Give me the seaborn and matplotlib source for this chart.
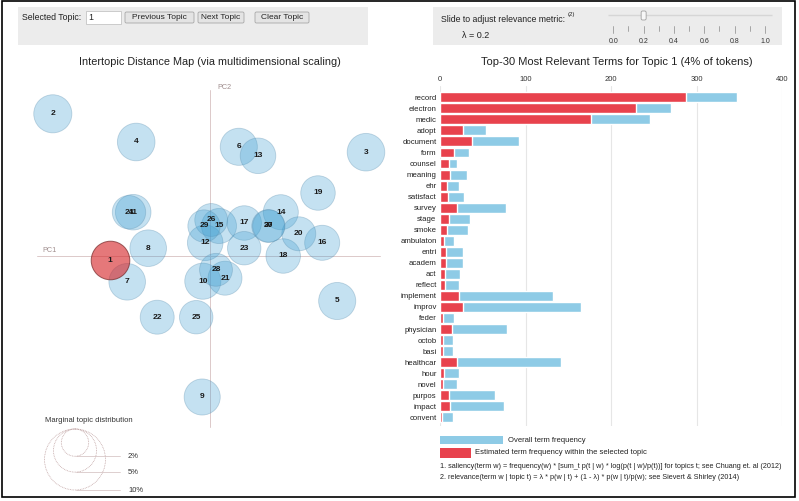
import numpy as np
import pandas as pd
import matplotlib
matplotlib.use("Agg")
import matplotlib.pyplot as plt
from matplotlib.patches import Rectangle, FancyBboxPatch, Circle
import seaborn as sns

# ---------------- data ----------------
topics = list(range(1, 31))
pc1 = [-0.167, -0.262, 0.260, -0.123, 0.212, 0.048, -0.138, -0.103, -0.013, -0.012,
       -0.128, -0.008, 0.080, 0.118, 0.015, 0.187, 0.057, 0.122, 0.180, 0.148,
       0.025, -0.088, 0.057, -0.135, -0.023, 0.002, 0.097, 0.010, -0.010, 0.098]
pc2 = [-0.007, 0.237, 0.173, 0.190, -0.075, 0.182, -0.043, 0.013, -0.235, -0.042,
       0.073, 0.022, 0.167, 0.073, 0.050, 0.022, 0.055, 0.000, 0.105, 0.037,
       -0.037, -0.102, 0.013, 0.073, -0.102, 0.060, 0.050, -0.023, 0.050, 0.050]
topic_share = [0.040, 0.039, 0.038, 0.038, 0.037, 0.037, 0.036, 0.036, 0.035, 0.035,
               0.034, 0.034, 0.034, 0.033, 0.033, 0.033, 0.032, 0.032, 0.032, 0.031,
               0.031, 0.031, 0.030, 0.030, 0.030, 0.029, 0.029, 0.029, 0.028, 0.028]
selected_topic = 1
legend_shares = [0.02, 0.05, 0.10]
legend_labels = ["2%", "5%", "10%"]

terms = ["record", "electron", "medic", "adopt", "document", "form", "counsel", "meaning",
         "ehr", "satisfact", "survey", "stage", "smoke", "ambulaton", "entri", "academ",
         "act", "reflect", "implement", "improv", "feder", "physician", "octob", "basi",
         "healthcar", "hour", "novel", "purpos", "impact", "convent"]
overall_freq = [347, 270, 245, 54, 92, 33.5, 19.5, 31, 22.6, 27.6,
                77, 34.7, 32.3, 16, 26.5, 27.3, 23.8, 22.6, 131.6, 164.7,
                16, 78.3, 15.2, 15.2, 141.8, 21.8, 20.3, 64.6, 75, 15.2]
topic_freq = [287, 229, 176, 27, 37, 16.4, 10.5, 11.7, 8.2, 9.3,
              20, 10.5, 8.2, 4.7, 7, 7, 5.8, 5.4, 22.6, 27.3,
              3.5, 14, 3.5, 3.5, 19.5, 4.3, 3.9, 10.5, 11.3, 2.7]
freq_ticks = [0, 100, 200, 300, 400]
lambda_ticks = [0.0, 0.1, 0.2, 0.3, 0.4, 0.5, 0.6, 0.7, 0.8, 0.9, 1.0]
lambda_value = 0.2

# ---------------- style ----------------
sns.set_style("white")
plt.rcParams['font.family'] = ['Liberation Sans', 'DejaVu Sans']
W, H = 799, 501
fig = plt.figure(figsize=(W / 100, H / 100), dpi=100)
fig.patch.set_facecolor("white")


def fax(x0, y0, x1, y1):
    return [x0 / W, 1 - y1 / H, (x1 - x0) / W, (y1 - y0) / H]


bg = fig.add_axes([0, 0, 1, 1])
bg.set_xlim(0, W)
bg.set_ylim(H, 0)
bg.axis("off")

TXT = "#222222"
# ---- top-left control panel ----
bg.add_patch(Rectangle((18, 7), 350, 38, fc="#ececec", ec="none"))
bg.text(22, 17.5, "Selected Topic:", fontsize=6.3, va="center", ha="left", color=TXT)
bg.add_patch(Rectangle((86, 11), 35, 13, fc="white", ec="#c4c4c4", lw=0.6))
bg.text(88.5, 17.8, str(selected_topic), fontsize=6.3, va="center", ha="left", color=TXT)
for label, x0, x1 in [("Previous Topic", 125, 194), ("Next Topic", 198, 244), ("Clear Topic", 255, 309)]:
    bg.add_patch(FancyBboxPatch((x0, 12), x1 - x0, 11, boxstyle="round,pad=0,rounding_size=1.5",
                                fc="#e4e4e4", ec="#a8a8a8", lw=0.6))
    bg.text((x0 + x1) / 2, 17.8, label, fontsize=6.0, va="center", ha="center", color=TXT)

# ---- top-right slider panel ----
bg.add_patch(Rectangle((433, 7), 349, 38, fc="#ececec", ec="none"))
bg.text(441, 19, "Slide to adjust relevance metric:", fontsize=6.3, va="center", ha="left", color=TXT)
bg.text(567.5, 14.5, "(2)", fontsize=4.3, va="center", ha="left", color=TXT)
bg.text(462, 35, "λ = %.1f" % lambda_value, fontsize=6.5, va="center", ha="left", color=TXT)
sx0, sx1 = 613.3, 765.0
bg.plot([608, 772], [15, 15], color="#d6d6d6", lw=1.0, solid_capstyle="butt")
for v in lambda_ticks:
    xx = sx0 + v * (sx1 - sx0)
    major = abs(round(v * 10) % 2) == 0
    bg.plot([xx, xx], [26, 33 if major else 31], color="#9a9a9a", lw=0.6)
    if major:
        bg.text(xx, 41.5, "%.1f" % v, fontsize=5.0, ha="center", va="center", color="#333333")
hx = sx0 + lambda_value * (sx1 - sx0)
bg.add_patch(FancyBboxPatch((hx - 2.5, 11), 5, 9, boxstyle="round,pad=0,rounding_size=1.5",
                            fc="#f7f7f7", ec="#a0a0a0", lw=0.6, zorder=3))

# ---- titles ----
bg.text(210, 61.5, "Intertopic Distance Map (via multidimensional scaling)", fontsize=7.8,
        ha="center", va="center", color=TXT)
bg.text(617, 61.5, "Top-30 Most Relevant Terms for Topic %d (%d%% of tokens)"
        % (selected_topic, round(topic_share[selected_topic - 1] * 100)),
        fontsize=8.0, ha="center", va="center", color=TXT)

# ---------------- intertopic distance map ----------------
ax = fig.add_axes(fax(30, 80, 390, 430))
ax.patch.set_alpha(0)
axis_col = "#dcc9c9"
ax.plot([-0.2883, 0.2833], [0, 0], color=axis_col, lw=0.7, zorder=1)
ax.plot([0, 0], [-0.285, 0.2767], color=axis_col, lw=0.7, zorder=1)
ax.text(-0.28, 0.009, "PC1", fontsize=5.2, color="#a08e8e", ha="left", va="center")
ax.text(0.012, 0.281, "PC2", fontsize=5.2, color="#a08e8e", ha="left", va="center")

s10 = (2 * 30.5 * 0.72) ** 2  # marker area (pt^2) of a 10% topic
df = pd.DataFrame({"pc1": pc1, "pc2": pc2, "share": topic_share, "topic": topics})
others = df[df.topic != selected_topic]
sel = df[df.topic == selected_topic]
sns.scatterplot(data=others, x="pc1", y="pc2", size="share", sizes=(0, s10), size_norm=(0, 0.1),
                color=(0.24, 0.62, 0.82, 0.30), edgecolor=(0.35, 0.55, 0.68, 0.35), linewidth=0.6,
                legend=False, ax=ax, zorder=2)
sns.scatterplot(data=sel, x="pc1", y="pc2", size="share", sizes=(0, s10), size_norm=(0, 0.1),
                color=(0.84, 0.15, 0.16, 0.62), edgecolor=(0.45, 0.15, 0.15, 0.7), linewidth=0.7,
                legend=False, ax=ax, zorder=3)
ax.set_xlim(-0.3, 0.3)
ax.set_ylim(-0.29, 0.29333)
ax.axis("off")
for t, x, y in zip(topics, pc1, pc2):
    ax.text(x, y, str(t), fontsize=6, fontweight="bold", ha="center", va="center",
            color="#1a1a1a", zorder=5)

# marginal topic distribution legend
bg.text(45, 420, "Marginal topic distribution", fontsize=5.5, ha="left", va="center", color="#333333")
for share, lab in zip(legend_shares, legend_labels):
    r = 30.5 * np.sqrt(share / 0.10)
    bg.add_patch(Circle((75, 429 + r), r, fill=False, ec="#c4a8a8", lw=0.6, ls=(0, (1, 1))))
    bg.plot([76, 120], [429 + 2 * r, 429 + 2 * r], color="#d0bcbc", lw=0.5)
    bg.text(128, 429 + 2 * r, lab, fontsize=5.5, ha="left", va="center", color="#333333")

# ---------------- bar chart ----------------
bx = fig.add_axes(fax(440, 86, 782.3, 426))
bx.patch.set_alpha(0)
blue = "#8ecbe6"
red = "#e8424d"
sns.barplot(x=overall_freq, y=terms, orient="h", color=blue, saturation=1, width=0.9, ax=bx)
sns.barplot(x=topic_freq, y=terms, orient="h", color=red, saturation=1, width=0.9, ax=bx)
bx.set_xlim(0, 400)
bx.set_ylim(29.79, -1.026)
bx.xaxis.tick_top()
bx.set_xticks(freq_ticks)
bx.set_xticklabels([str(v) for v in freq_ticks])
bx.set_xlabel("")
bx.set_ylabel("")
bx.grid(axis="x", color="#e6e6e6", lw=0.8)
bx.set_axisbelow(True)
for sp in bx.spines.values():
    sp.set_visible(False)
bx.tick_params(axis="x", length=0, pad=2.5, labelsize=5.5, labelcolor="#333333")
bx.tick_params(axis="y", length=0, pad=2.5, labelsize=5.6, labelcolor="#222222")

# bar legend and footnotes
bg.add_patch(Rectangle((440, 436), 63.3, 8.3, fc=blue, ec="none"))
bg.text(508, 440.2, "Overall term frequency", fontsize=5.5, ha="left", va="center", color=TXT)
bg.add_patch(Rectangle((440, 447.7), 31, 10, fc=red, ec="none"))
bg.text(475, 452.7, "Estimated term frequency within the selected topic", fontsize=5.5,
        ha="left", va="center", color=TXT)
bg.text(440, 466.5, "1. saliency(term w) = frequency(w) * [sum_t p(t | w) * log(p(t | w)/p(t))] for topics t; see Chuang et. al (2012)",
        fontsize=5.2, ha="left", va="center", color=TXT)
bg.text(440, 477.5, "2. relevance(term w | topic t) = λ * p(w | t) + (1 - λ) * p(w | t)/p(w); see Sievert & Shirley (2014)",
        fontsize=5.2, ha="left", va="center", color=TXT)

# outer frame
bg.add_patch(Rectangle((2, 1), 793, 496, fill=False, ec="black", lw=1.2))

fig.savefig("out.png", dpi=100)
